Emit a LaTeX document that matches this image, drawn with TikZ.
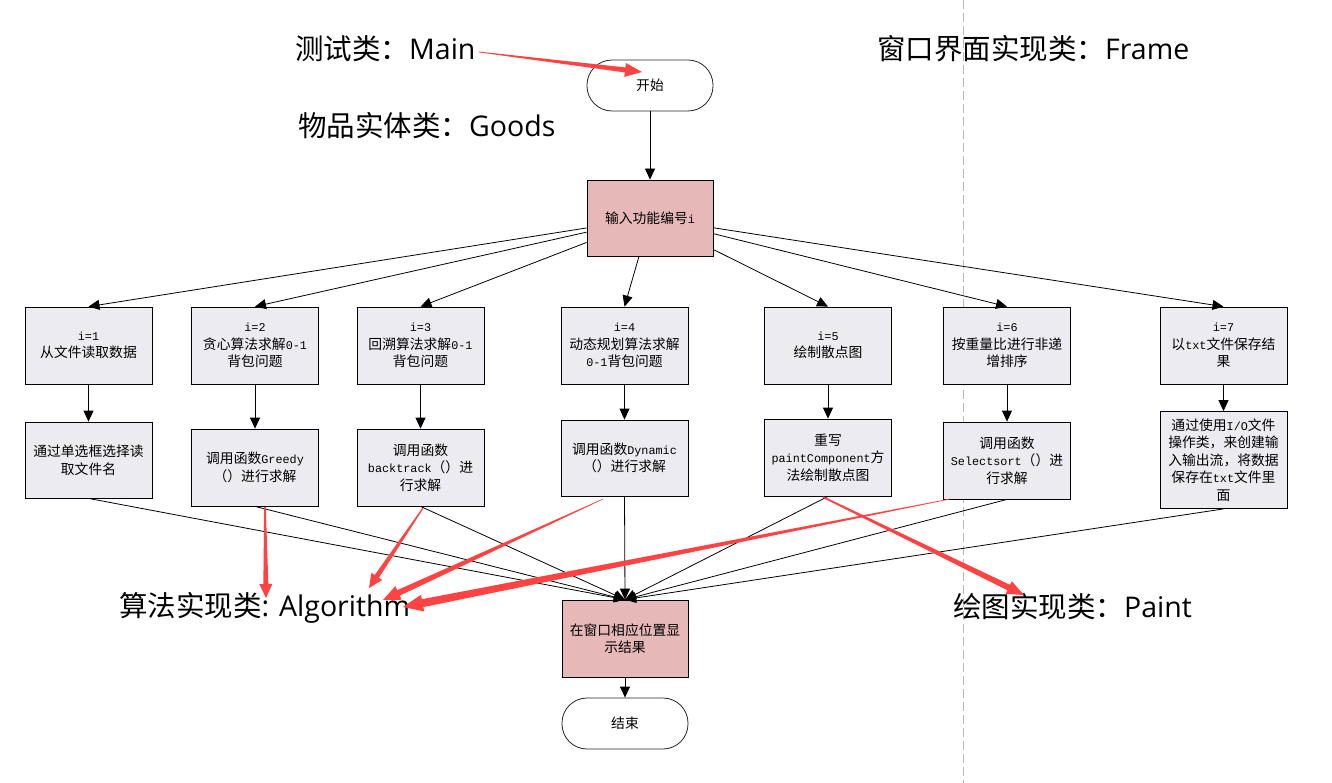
\documentclass[tikz,border=0pt]{standalone}
\usepackage{fontspec}
\setmainfont{Noto Sans CJK SC}
\newfontfamily\mono{Liberation Mono}
\newfontfamily\lat{Open Sans}
\usetikzlibrary{arrows.meta,calc}
\definecolor{boxc}{HTML}{EDEBF2}
\definecolor{pinkc}{HTML}{E6B9B8}
\definecolor{redc}{HTML}{FF4242}
\definecolor{dashc}{HTML}{B8B8B8}
\newcommand\mt[1]{{\mono\fontsize{11.8}{17.5}\selectfont #1}}
\newcommand\redarrow[6]{%
  \path ($(#2)!#6pt!(#1)$) coordinate (rh);
  \fill[redc] ($(#1)!#3pt!90:(#2)$) -- ($(rh)!#4pt!90:(#2)$) -- ($(rh)!#5pt!90:(#2)$) -- (#2)
    -- ($(rh)!#5pt!-90:(#2)$) -- ($(rh)!#4pt!-90:(#2)$) -- ($(#1)!#3pt!-90:(#2)$) -- cycle;}
\tikzset{
  box/.style={draw=black, line width=0.8pt, fill=boxc, minimum width=127pt, minimum height=77pt,
    align=center, inner sep=1pt, font=\fontsize{13.8}{17.5}\selectfont},
  pbox/.style={box, fill=pinkc},
  term/.style={draw=black!85, line width=0.8pt, fill=white, rounded corners=25pt,
    minimum width=126pt, minimum height=51pt, align=center, font=\fontsize{13.8}{17.5}\selectfont},
  conn/.style={draw=black, line width=0.8pt, -{Triangle[length=11pt,width=10pt]}},
  big/.style={inner sep=0pt, anchor=base west, font=\fontsize{28.5}{34}\selectfont},
  sep/.style={draw=dashc, line width=0.8pt, dash pattern=on 9pt off 4pt},
}
\begin{document}
\begin{tikzpicture}[x=1pt,y=-1pt]
\useasboundingbox[fill=white] (0,0) rectangle (1332,783);
% separator
\coordinate (dtop) at (963,0);
\coordinate (dbot) at (963,783);
\draw[sep] (dtop) -- (dbot);
% labels
\node[big] (lmain) at (295,60) {测试类：{\lat Main}};
\node[big] (lgoods) at (298,137) {物品实体类：{\lat Goods}};
\node[big] (lframe) at (877,60) {窗口界面实现类：{\lat Frame}};
\node[big] (lalg) at (119,616) {算法实现类{\lat : Algorithm}};
\node[big] (lpaint) at (953,617) {绘图实现类：{\lat Paint}};
% flow nodes
\node[term] (start) at (650,85.5) {开始};
\node[pbox, minimum width=126pt, minimum height=76pt] (in) at (650,218) {输入功能编号\mt{i}};
\node[box] (b1) at (88.5,345.5) {\mt{i=1}\\从文件读取数据};
\node[box] (b2) at (255,345.5) {\mt{i=2}\\贪心算法求解\mt{0-1}\\背包问题};
\node[box] (b3) at (420.5,345.5) {\mt{i=3}\\回溯算法求解\mt{0-1}\\背包问题};
\node[box] (b4) at (624.5,345.5) {\mt{i=4}\\动态规划算法求解\\\mt{0-1}背包问题};
\node[box] (b5) at (828,345.5) {\mt{i=5}\\绘制散点图};
\node[box] (b6) at (1007,345.5) {\mt{i=6}\\按重量比进行非递\\增排序};
\node[box] (b7) at (1223.5,345.5) {\mt{i=7}\\以\mt{txt}文件保存结\\果};
\node[box, minimum height=76pt] (c1) at (88.5,460) {通过单选框选择读\\取文件名};
\node[box] (c2) at (255,467.5) {调用函数\mt{Greedy}\\（）进行求解};
\node[box] (c3) at (420.5,467.5) {调用函数\\\mt{backtrack}（）进\\行求解};
\node[box, minimum height=76pt] (c4) at (624.5,458) {调用函数\mt{Dynamic}\\（）进行求解};
\node[box] (c5) at (828,457.5) {重写\\\mt{paintComponent}方\\法绘制散点图};
\node[box] (c6) at (1007,460.5) {调用函数\\\mt{Selectsort}（）进\\行求解};
\node[box, minimum height=97pt] (c7) at (1223.5,460) {通过使用\mt{I/O}文件\\操作类，来创建输\\入输出流，将数据\\保存在\mt{txt}文件里\\面};
\node[pbox, minimum width=126pt] (out) at (625,638.5) {在窗口相应位置显\\示结果};
\node[term] (end) at (625,723.5) {结束};
% connectors
\draw[conn] (start) -- (in);
\foreach \b in {b1,b2,b3,b4,b5,b6,b7} {\draw[conn] (in) -- (\b.north);}
\foreach \i in {1,...,7} {\draw[conn] (b\i.south) -- (c\i.north);}
\foreach \i in {1,...,7} {\draw[conn] (c\i.south) -- (out.north);}
\draw[conn] (out) -- (end);
% red arrows
\coordinate (r1a) at (479,52);  \coordinate (r1b) at (642,72);
\coordinate (r2a) at (265,507); \coordinate (r2b) at (266,598);
\coordinate (r3a) at (423,508); \coordinate (r3b) at (369,588);
\coordinate (r4a) at (603,499); \coordinate (r4b) at (383,600);
\coordinate (r5a) at (950,499); \coordinate (r5b) at (403,607);
\coordinate (r6a) at (823,497); \coordinate (r6b) at (1024,595);
\redarrow{r1a}{r1b}{0.4}{2.5}{7}{17}
\redarrow{r2a}{r2b}{0.8}{2.5}{6.5}{14}
\redarrow{r3a}{r3b}{0.6}{2.5}{6.5}{14}
\redarrow{r4a}{r4b}{0.3}{3}{7.5}{17}
\redarrow{r5a}{r5b}{0.3}{4}{8.5}{20}
\redarrow{r6a}{r6b}{0.8}{3}{7}{17}
\end{tikzpicture}
\end{document}
